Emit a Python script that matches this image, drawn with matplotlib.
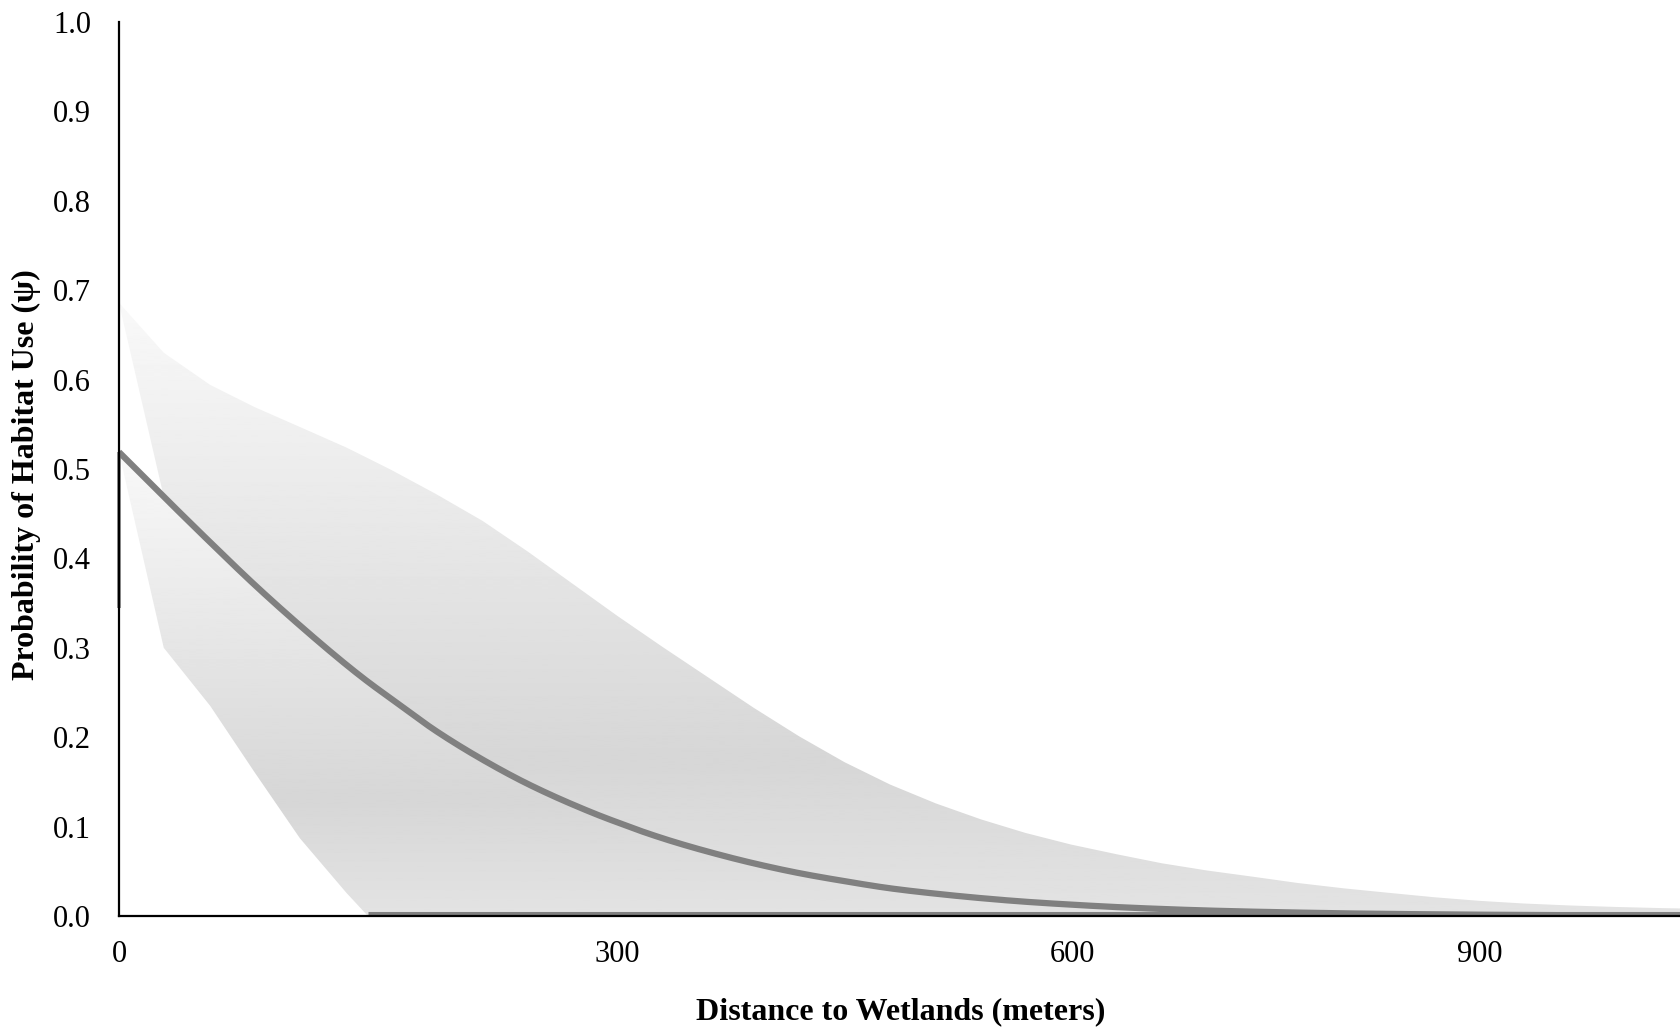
import numpy as np
import matplotlib
matplotlib.use("Agg")
import matplotlib.pyplot as plt
from matplotlib.path import Path
from matplotlib.patches import PathPatch
from matplotlib.ticker import NullLocator

# Distance to wetlands (m) and modelled probability of habitat use (psi)
distance = [0, 27, 55, 82, 109, 137, 150, 164, 191, 219, 246, 273, 300, 330,
            360, 390, 420, 450, 480, 510, 540, 569, 599, 633, 666, 699, 733,
            766, 800, 833, 867, 900, 933, 967, 1000, 1034, 1067]

psi_mean = [0.519, 0.469, 0.418, 0.370, 0.325, 0.281, 0.262, 0.243, 0.207,
            0.175, 0.148, 0.125, 0.105, 0.087, 0.072, 0.059, 0.048, 0.039,
            0.031, 0.025, 0.020, 0.016, 0.0128, 0.0100, 0.0079, 0.0062,
            0.0049, 0.0039, 0.0030, 0.0024, 0.0019, 0.0015, 0.0012, 0.0009,
            0.0007, 0.0006, 0.0005]

psi_upper = [0.686, 0.630, 0.594, 0.569, 0.547, 0.524, 0.512, 0.499, 0.472,
             0.442, 0.408, 0.372, 0.336, 0.301, 0.267, 0.233, 0.201, 0.172,
             0.147, 0.126, 0.108, 0.093, 0.080, 0.069, 0.059, 0.051, 0.044,
             0.037, 0.031, 0.026, 0.021, 0.017, 0.014, 0.0118, 0.0102,
             0.0089, 0.0079]

psi_lower = [0.345, 0.300, 0.235, 0.160, 0.087, 0.026, 0.0, 0.0, 0.0, 0.0,
             0.0, 0.0, 0.0, 0.0, 0.0, 0.0, 0.0, 0.0, 0.0, 0.0, 0.0, 0.0, 0.0,
             0.0, 0.0, 0.0, 0.0, 0.0, 0.0, 0.0, 0.0, 0.0, 0.0, 0.0, 0.0, 0.0,
             0.0]

x_ticks = [0, 300, 600, 900]
y_ticks = [0.0, 0.1, 0.2, 0.3, 0.4, 0.5, 0.6, 0.7, 0.8, 0.9, 1.0]

x = np.array(distance, dtype=float)
mean = np.array(psi_mean)
upper = np.array(psi_upper)
lower = np.array(psi_lower)

# The distance axis is spaced by category rather than by metre:
# successive 300 m labels sit progressively closer together.
_anchor_m = np.array([-300.0, 0.0, 300.0, 600.0, 900.0, 1200.0])
_anchor_pos = np.array([-329.5, 0.0, 329.5, 630.8, 900.0, 1169.2])


def to_axis(d):
    return np.interp(d, _anchor_m, _anchor_pos)


def from_axis(p):
    return np.interp(p, _anchor_pos, _anchor_m)


def pchip(xk, yk, xs):
    """Shape-preserving cubic interpolation (smoothed line)."""
    h = np.diff(xk)
    delta = np.diff(yk) / h
    m = np.zeros_like(yk)
    for k in range(1, len(xk) - 1):
        if delta[k - 1] * delta[k] > 0:
            w1 = 2 * h[k] + h[k - 1]
            w2 = h[k] + 2 * h[k - 1]
            m[k] = (w1 + w2) / (w1 / delta[k - 1] + w2 / delta[k])
    m[0] = delta[0]
    m[-1] = delta[-1]
    idx = np.clip(np.searchsorted(xk, xs) - 1, 0, len(xk) - 2)
    t = (xs - xk[idx]) / h[idx]
    h00 = 2 * t**3 - 3 * t**2 + 1
    h10 = t**3 - 2 * t**2 + t
    h01 = -2 * t**3 + 3 * t**2
    h11 = t**3 - t**2
    return (h00 * yk[idx] + h10 * h[idx] * m[idx]
            + h01 * yk[idx + 1] + h11 * h[idx] * m[idx + 1])


plt.rcParams["font.family"] = ["Liberation Serif", "DejaVu Serif"]

fig = plt.figure(figsize=(16.8, 10.31), dpi=100)
ax = fig.add_axes([0.0708, 0.1115, 0.9292, 0.8672])
ax.set_xscale("function", functions=(to_axis, from_axis))

XMAX = 1048

# vertical grey gradient: darker low in the band, light at the top
grad_t = [0.0, 0.25, 1.0]
grad_v = [0.89, 0.84, 0.975]


def gradient_band(y_lo, y_hi):
    top = float(np.max(y_hi))
    verts = np.concatenate([np.column_stack([x, y_hi]),
                            np.column_stack([x[::-1], y_lo[::-1]])])
    patch = PathPatch(Path(verts, closed=True), facecolor="none",
                      edgecolor="none", transform=ax.transData)
    ax.add_patch(patch)
    t = np.linspace(0, 1, 512)[:, None]
    shade = np.interp(t, grad_t, grad_v)
    img = ax.imshow(shade, cmap="gray", vmin=0, vmax=1, origin="lower",
                    extent=[x[0], x[-1], 0, top], aspect="auto",
                    interpolation="bilinear", zorder=1)
    img.set_clip_path(patch)


# upper part of the interval (mean to upper) and lower part (lower to mean)
gradient_band(mean, upper)
gradient_band(lower, mean)

grey = "#808080"
# left edge of the interval at zero distance
ax.plot([0, 0], [lower[0], mean[0]], color=grey, lw=2.6, zorder=3,
        solid_capstyle="butt", clip_on=False)
# lower bound resting on zero
first = int(np.argmax(lower <= 0))
ax.plot(x[first:], lower[first:] + 0.003, color=grey, lw=2.2, zorder=3,
        solid_capstyle="butt")
# mean prediction, smoothed between the tabulated points
xs = np.linspace(x[0], x[-1], 1500)
ax.plot(xs, pchip(x, mean, xs), color=grey, lw=4.5, zorder=4,
        solid_capstyle="butt")

ax.set_xlim(0, XMAX)
ax.set_ylim(0, 1.0)
ax.set_xticks(x_ticks)
ax.set_xticklabels([str(v) for v in x_ticks])
ax.xaxis.set_minor_locator(NullLocator())
ax.set_yticks(y_ticks)
ax.set_yticklabels([f"{v:.1f}" for v in y_ticks])
ax.tick_params(axis="both", length=0, labelsize=22, colors="black")
ax.tick_params(axis="y", pad=20)
ax.tick_params(axis="x", pad=17)

for side in ("top", "right"):
    ax.spines[side].set_visible(False)
for side in ("left", "bottom"):
    ax.spines[side].set_linewidth(1.6)
    ax.spines[side].set_color("black")
    ax.spines[side].set_zorder(6)

ax.text(0.501, -0.107, "Distance to Wetlands (meters)", transform=ax.transAxes,
        ha="center", va="center", fontsize=23, fontweight="bold")
ax.text(-0.059, 0.494, "Probability of Habitat Use (\u03c8)",
        transform=ax.transAxes, ha="center", va="center", rotation=90,
        fontsize=23, fontweight="bold")

fig.savefig("out.png", dpi=100, facecolor="white")
